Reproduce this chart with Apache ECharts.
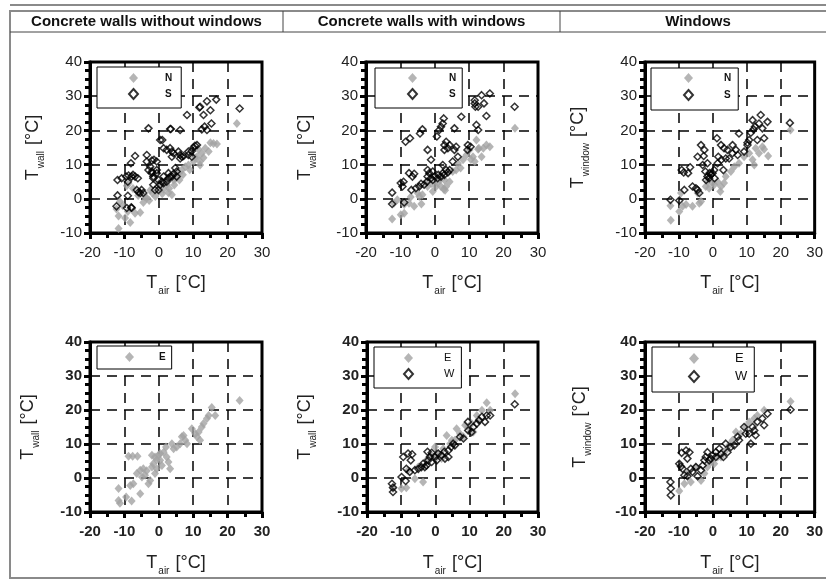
<!DOCTYPE html>
<html>
<head>
<meta charset="utf-8">
<script src="https://cdn.jsdelivr.net/npm/echarts@6/dist/echarts.min.js"></script>
<style>
html, body { margin: 0; padding: 0; background: #fff; }
#chart { width: 826px; height: 581px; }
</style>
</head>
<body>
<div id="chart"></div>
<script>
// column headings and axis ticks
var headings = ['Concrete walls without windows', 'Concrete walls with windows', 'Windows'];
var xTicks = [-20, -10, 0, 10, 20, 30];
var yTicks = [-10, 0, 10, 20, 30, 40];

// [T_air, T_surface] pairs
var wallNoWinN = [[-11.7,-8.7],[-11.7,-5.0],[-9.8,-5.6],[-8.3,-6.9],[-9.0,-3.7],[-6.9,-4.2],[-5.4,-4.0],[-4.5,-1.1],[-3.5,0.2],[-1.9,1.7],[-1.0,0.7],[-0.1,2.1],[1.4,2.8],[2.8,1.8],[3.8,1.2],[2.3,4.1],[4.3,5.5],[5.7,7.5],[6.7,8.4],[7.7,9.4],[8.6,9.9],[10.1,10.9],[11.1,12.3],[12.0,10.9],[12.5,13.3],[13.5,14.8],[14.5,13.8],[15.0,16.4],[15.9,16.2],[16.9,16.0],[12.0,9.9],[22.7,22.0],[-11.3,-0.8],[-9.3,3.8],[-8.8,4.5],[-7.5,3.0],[-6.0,1.0],[-4.0,0.5],[-2.5,2.5],[0.5,3.5],[1.0,1.5],[3.0,3.0],[4.5,4.0],[5.0,6.0],[6.0,5.5],[7.0,7.0],[9.0,8.5],[10.5,12.0],[11.5,14.5],[13.0,12.0],[-12.3,-3.0],[-10.5,-2.0],[-2.8,-0.5],[0.0,4.5]];
var wallNoWinS = [[-9.0,5.0],[-9.0,0.9],[-9.3,-2.7],[-7.9,-2.7],[-9.5,6.5],[-8.8,6.8],[-7.9,6.5],[-6.9,6.5],[-6.1,6.0],[-8.1,10.4],[-6.9,12.5],[-3.5,12.8],[-2.0,11.2],[-1.4,11.4],[-3.0,8.4],[-0.6,8.4],[-2.0,7.5],[-1.6,6.0],[-0.1,5.5],[-1.6,4.1],[-1.1,2.6],[-0.1,2.6],[0.4,4.1],[1.4,4.6],[2.3,5.0],[2.8,6.0],[3.3,6.5],[2.8,7.5],[-6.4,2.6],[-5.4,1.7],[-4.5,1.7],[-5.9,1.9],[-5.0,2.6],[-3.0,20.6],[0.4,17.2],[1.0,17.2],[1.4,14.8],[2.3,14.3],[3.3,14.8],[3.8,13.8],[4.3,13.3],[3.8,12.3],[5.7,13.8],[6.2,12.8],[6.7,12.3],[7.2,12.5],[8.6,13.8],[8.6,12.8],[9.6,12.3],[10.1,15.0],[11.1,15.7],[3.3,20.4],[3.5,20.4],[6.2,20.1],[8.2,24.5],[11.8,26.7],[12.0,26.9],[13.0,24.5],[13.3,21.1],[12.5,20.3],[14.0,20.1],[14.0,28.5],[15.0,25.9],[15.3,22.0],[16.7,29.0],[23.5,26.4],[6.2,11.8],[5.2,8.0],[4.8,9.0],[4.3,7.3],[5.2,6.5],[3.8,6.5],[0.9,5.0],[1.4,6.5],[-0.6,7.5],[-1.6,6.5],[-2.5,9.4],[-3.5,10.9],[-0.6,10.9],[-2.0,8.0],[-12.0,5.5],[-12.0,1.0],[-12.3,-2.2],[-8.0,-2.5],[-10.8,6.0],[-7.5,7.0],[9.6,14.0],[10.5,15.5]];
var wallWinN = [[-12.4,-5.9],[-9.9,-4.7],[-8.9,-4.2],[-8.9,-1.7],[-7.5,-1.3],[-6.0,-2.2],[-3.9,-1.5],[-3.6,1.2],[-5.0,1.7],[-2.1,3.6],[-0.6,2.1],[0.4,3.6],[0.8,4.8],[1.8,3.6],[2.6,2.8],[3.3,3.6],[4.3,5.0],[5.2,8.0],[6.2,8.4],[6.7,10.4],[8.2,11.4],[9.2,12.8],[10.1,14.3],[11.1,12.3],[11.6,10.9],[12.1,17.2],[12.6,14.5],[13.6,12.3],[12.8,14.8],[14.1,14.8],[15.0,15.7],[16.0,15.2],[23.3,20.6],[-11.9,-1.3],[-2.1,5.0],[2.8,5.5],[-4.5,0.7],[-10.9,-0.3],[-1.0,4.5],[1.5,5.5],[3.0,2.5],[7.5,9.0],[10.5,11.5],[-7.0,0.5]];
var wallWinS = [[-12.4,1.8],[-12.4,-1.5],[-8.9,-1.1],[-9.9,4.6],[-9.1,5.0],[-9.4,3.6],[-7.5,7.5],[-6.0,7.3],[-6.5,6.5],[-6.8,2.6],[-5.5,3.1],[-4.5,3.6],[-4.0,4.4],[-3.1,4.1],[-2.3,5.0],[-2.1,6.5],[-1.6,7.5],[-2.1,8.4],[-1.1,6.0],[-0.6,5.5],[-0.1,6.5],[0.8,6.0],[1.8,6.5],[2.3,7.5],[2.8,7.0],[3.3,8.4],[3.8,7.7],[2.3,9.9],[4.3,8.4],[-8.5,16.7],[-7.2,17.7],[-4.3,19.1],[-3.6,20.3],[-2.1,14.3],[-1.1,11.4],[0.6,18.2],[1.3,20.1],[1.8,21.1],[2.3,22.0],[2.6,23.5],[2.8,15.7],[3.3,16.7],[3.8,14.8],[2.8,14.3],[4.3,15.7],[5.2,10.9],[5.7,20.6],[5.7,14.3],[6.2,15.2],[6.7,12.3],[7.7,24.0],[9.5,14.3],[9.6,15.7],[10.4,15.2],[11.6,28.8],[11.8,26.9],[12.6,26.9],[12.1,21.6],[12.6,20.1],[13.6,30.3],[14.3,27.9],[15.0,24.2],[16.0,30.8],[23.2,26.9],[11.6,27.9],[-0.6,8.0],[1.0,7.0]];
var windowN = [[-12.4,-6.3],[-12.5,-2.0],[-9.9,-3.7],[-8.9,-2.2],[-7.9,-1.7],[-6.0,-2.2],[-4.0,-1.3],[-3.5,-0.8],[-4.5,1.7],[-2.1,3.6],[-1.1,3.1],[-0.1,4.6],[1.4,5.0],[2.2,2.1],[2.4,3.6],[3.3,4.6],[3.8,6.5],[5.3,8.0],[6.3,9.4],[7.7,10.4],[9.2,12.3],[10.7,13.3],[11.7,11.4],[12.6,14.8],[12.2,9.9],[13.6,13.3],[14.6,15.2],[15.1,14.5],[16.3,12.5],[22.9,20.1],[-9.4,1.7],[-1.6,5.0],[0.4,4.1]];
var windowS = [[-12.5,-0.3],[-9.9,-0.5],[-9.2,8.4],[-8.6,7.7],[-6.7,9.2],[-7.3,7.5],[-8.4,2.6],[-6.0,3.6],[-5.0,3.1],[-4.5,2.6],[-4.0,1.7],[-3.5,15.7],[-4.5,12.3],[-2.7,12.5],[-2.5,14.3],[-1.6,10.4],[-3.0,9.9],[-2.2,8.0],[-1.6,6.5],[-0.6,7.0],[-1.1,6.0],[-0.1,7.5],[0.4,8.4],[1.4,10.4],[1.2,17.7],[1.6,12.3],[2.4,15.7],[2.5,11.4],[3.3,14.8],[3.8,11.8],[3.1,8.4],[4.3,14.3],[4.8,11.8],[5.8,15.7],[5.8,13.3],[6.8,14.3],[7.3,12.8],[7.7,19.1],[9.2,13.8],[10.2,15.7],[10.7,17.2],[11.2,19.3],[11.7,23.0],[12.0,20.3],[12.4,21.1],[13.1,17.2],[13.6,22.0],[14.1,24.5],[14.6,20.6],[15.1,17.7],[16.1,22.5],[22.7,22.2],[10.2,16.4],[-2.0,5.5],[-1.0,7.5],[0.5,6.0]];
var wallNoWinE = [[-11.7,-3.1],[-11.7,-6.6],[-11.3,-7.4],[-9.5,-5.6],[-7.9,-6.8],[-8.3,-2.2],[-7.4,-1.7],[-5.4,-4.6],[-8.8,6.4],[-7.6,6.4],[-6.2,6.4],[-6.4,1.3],[-5.4,2.3],[-4.5,2.7],[-3.5,2.1],[-3.0,-1.7],[-2.5,-0.7],[-2.0,3.2],[-1.6,4.2],[-2.0,6.7],[-1.1,6.2],[-0.6,5.4],[0.4,5.2],[0.9,3.7],[0.4,7.2],[1.4,7.6],[2.1,9.1],[2.3,6.2],[2.8,4.7],[3.3,2.7],[3.8,10.1],[4.3,8.6],[5.2,9.1],[6.2,10.1],[6.7,12.1],[7.2,12.5],[7.7,11.1],[8.2,10.1],[9.6,14.5],[10.6,13.0],[11.1,12.1],[11.6,13.5],[12.0,11.1],[12.5,15.0],[13.0,16.0],[14.0,17.5],[14.5,18.4],[15.4,20.7],[16.4,18.4],[23.5,22.8],[-1.1,1.3],[-0.6,2.7],[-0.1,6.7],[-4.0,0.8],[-4.9,0.3]];
var wallWinE = [[-12.4,-3.1],[-9.9,-3.1],[-8.5,-2.9],[-6.0,-0.2],[-3.6,-1.2],[-8.0,2.3],[-5.0,3.2],[-2.6,5.2],[-1.1,6.7],[0.4,6.2],[1.8,5.7],[3.3,12.5],[4.3,10.1],[5.7,11.1],[6.2,14.5],[8.2,12.1],[9.6,15.0],[11.1,13.5],[12.1,18.4],[13.6,19.9],[15.0,22.1],[16.0,19.9],[23.3,24.8],[-0.1,9.1],[0.8,7.2],[2.3,8.6],[4.8,11.1],[7.2,13.0],[8.7,15.5],[10.6,16.0],[12.6,17.0]];
var wallWinW = [[-12.7,-1.7],[-12.4,-4.1],[-12.4,-2.8],[-9.9,0.3],[-8.7,-0.9],[-9.4,6.2],[-8.0,7.2],[-6.8,7.0],[-7.2,5.2],[-8.5,2.7],[-7.5,1.8],[-6.0,2.3],[-5.0,2.7],[-4.1,3.2],[-3.6,4.2],[-2.6,3.7],[-2.1,5.2],[-1.6,6.2],[-1.1,4.7],[-2.3,7.7],[-1.1,7.4],[-0.1,6.2],[0.8,7.2],[1.8,6.7],[2.6,7.7],[3.8,8.1],[4.6,9.1],[5.2,10.1],[5.7,9.6],[7.2,12.1],[8.2,11.6],[9.5,16.5],[9.6,14.0],[10.6,13.5],[11.1,15.0],[12.1,16.0],[12.8,17.0],[13.6,18.0],[14.5,16.5],[15.0,18.4],[16.0,18.4],[23.2,21.7],[0.4,5.2],[2.8,5.7],[3.8,6.2],[-3.1,3.2]];
var windowE = [[-9.9,-3.8],[-6.5,-1.2],[-3.5,-0.7],[-2.5,1.3],[-1.6,3.2],[-0.6,4.7],[0.4,4.2],[1.4,6.2],[2.4,6.2],[3.8,8.1],[4.8,9.6],[5.8,11.1],[6.8,13.5],[8.2,13.0],[9.7,15.0],[10.7,16.5],[12.2,17.5],[13.1,18.4],[15.1,19.9],[22.9,22.5],[-7.5,1.3],[-5.0,3.2],[-8.4,-1.7]];
var windowW = [[-12.5,-1.2],[-12.4,-3.1],[-12.4,-5.1],[-9.9,4.2],[-8.9,2.7],[-9.2,7.4],[-7.9,8.1],[-6.9,7.6],[-7.5,5.7],[-8.4,0.8],[-7.5,0.5],[-6.0,1.8],[-6.5,2.7],[-5.0,3.2],[-4.5,0.5],[-3.5,2.3],[-3.0,3.7],[-2.5,5.2],[-2.1,6.2],[-1.6,7.6],[-1.1,5.2],[-0.6,5.7],[-0.1,6.7],[0.9,6.2],[0.9,7.6],[1.9,8.6],[2.4,7.1],[3.1,6.2],[3.8,10.1],[4.3,7.6],[5.3,9.1],[6.3,9.6],[7.3,12.1],[7.7,11.1],[9.2,15.0],[9.7,13.0],[10.7,13.0],[11.2,10.1],[11.7,15.0],[12.2,14.0],[12.6,12.6],[13.1,16.5],[14.6,17.5],[15.1,15.5],[16.1,18.9],[22.9,20.1],[-9.4,3.4]];

var FONT = '"Liberation Sans", Arial, sans-serif';

var grayMark = { symbol: 'diamond', symbolSize: [8, 9], itemStyle: { color: '#a3a3a3' } };
var openMark = { symbol: 'diamond', symbolSize: [7, 7], itemStyle: { color: 'rgba(255,255,255,0)', borderColor: '#000', borderWidth: 1.5 } };

var panels = [
  { grid: [90, 62, 172, 171], bold: false, sub: 'wall', yGap: 46, xGap: 41,
    series: [['N', wallNoWinN, grayMark], ['S', wallNoWinS, openMark]],
    lg: { left: 97, top: 67, pad: [5, 9, 8, 31], gap: 4, tp: 22, fs: 10, fw: 'bold', lh: 12, icon: 9 } },
  { grid: [366, 62, 172, 171], bold: false, sub: 'wall', yGap: 50, xGap: 41,
    series: [['N', wallWinN, grayMark], ['S', wallWinS, openMark]],
    lg: { left: 375, top: 68, pad: [4, 6, 8, 32], gap: 4, tp: 27, fs: 10, fw: 'bold', lh: 12, icon: 9 } },
  { grid: [645, 62, 170, 171], bold: false, sub: 'window', yGap: 56, xGap: 41,
    series: [['N', windowN, grayMark], ['S', windowS, openMark]],
    lg: { left: 651, top: 68, pad: [4, 7, 9, 32], gap: 5, tp: 26, fs: 10, fw: 'bold', lh: 12, icon: 9 } },
  { grid: [90, 342, 172, 170], bold: true, sub: 'wall', yGap: 51, xGap: 42,
    series: [['E', wallNoWinE, grayMark]],
    lg: { left: 97, top: 346, pad: [5, 6, 6, 28], gap: 4, tp: 20, fs: 10, fw: 'bold', lh: 12, icon: 9 } },
  { grid: [367, 342, 171, 170], bold: true, sub: 'wall', yGap: 51, xGap: 42,
    series: [['E', wallWinE, grayMark], ['W', wallWinW, openMark]],
    lg: { left: 374, top: 347, pad: [5, 7, 8, 29], gap: 4, tp: 26, fs: 11, fw: 'normal', lh: 12, icon: 9 } },
  { grid: [645, 342, 170, 170], bold: true, sub: 'window', yGap: 54, xGap: 42,
    series: [['E', windowE, grayMark], ['W', windowW, openMark]],
    lg: { left: 652, top: 347, pad: [4, 7, 8, 36], gap: 3, tp: 31, fs: 13, fw: 'normal', lh: 15, icon: 10 } }
];

function axisName(sub) {
  return {
    text: '{t|T}{s|' + sub + '}{t| [°C]}',
    rich: {
      t: { fontSize: 18, fontFamily: FONT, color: '#222', lineHeight: 20, verticalAlign: 'top' },
      s: { fontSize: 10, fontFamily: FONT, color: '#222', lineHeight: 10, verticalAlign: 'top', padding: [12, 1, 0, 1] }
    }
  };
}

var option = { animation: false, backgroundColor: '#fff', grid: [], xAxis: [], yAxis: [], series: [], legend: [], graphic: [] };

panels.forEach(function (p, i) {
  option.grid.push({ left: p.grid[0], top: p.grid[1], width: p.grid[2], height: p.grid[3],
    show: true, borderColor: '#000', borderWidth: 3, backgroundColor: 'transparent' });
  var lbl = { fontSize: 15, fontFamily: FONT, color: '#222', fontWeight: p.bold ? 'bold' : 'normal' };
  var common = {
    gridIndex: i, type: 'value',
    axisLine: { show: true, onZero: false, lineStyle: { color: '#000', width: 3 } },
    axisTick: { show: true, inside: false, length: 6, lineStyle: { color: '#000', width: 3 } },
    minorTick: { show: true, length: 5, lineStyle: { color: '#000', width: 3 } },
    splitLine: { show: true, lineStyle: { color: '#000', width: 1.5, type: [10, 7] } },
    nameLocation: 'middle'
  };
  var xn = axisName('air');
  option.xAxis.push(Object.assign({}, common, {
    position: 'bottom',
    min: xTicks[0], max: xTicks[xTicks.length - 1], interval: xTicks[1] - xTicks[0],
    minorTick: Object.assign({}, common.minorTick, { splitNumber: 2 }),
    axisLabel: Object.assign({ margin: 12 }, lbl),
    name: xn.text, nameGap: p.xGap, nameTextStyle: { rich: xn.rich }
  }));
  var yn = axisName(p.sub);
  option.yAxis.push(Object.assign({}, common, {
    position: 'left',
    min: yTicks[0], max: yTicks[yTicks.length - 1], interval: yTicks[1] - yTicks[0],
    minorTick: Object.assign({}, common.minorTick, { splitNumber: 4 }),
    axisLabel: Object.assign({ margin: 8 }, lbl),
    name: yn.text, nameGap: p.yGap, nameRotate: 90, nameTextStyle: { rich: yn.rich }
  }));
  var names = [];
  p.series.forEach(function (s) {
    names.push({ name: s[0], icon: 'diamond',
      itemStyle: s[2] === grayMark ? { color: '#a3a3a3' } : { color: '#fff', borderColor: '#000', borderWidth: 2 } });
    option.series.push({
      name: s[0], type: 'scatter', xAxisIndex: i, yAxisIndex: i, data: s[1],
      symbol: s[2].symbol, symbolSize: s[2].symbolSize, itemStyle: s[2].itemStyle,
      emphasis: { disabled: true }
    });
  });
  var lg = p.lg;
  option.legend.push({
    orient: 'vertical', left: lg.left, top: lg.top, padding: lg.pad, itemGap: lg.gap,
    itemWidth: lg.icon, itemHeight: lg.icon + 1, selectedMode: false,
    backgroundColor: '#fff', borderColor: '#000', borderWidth: 1, borderRadius: 0,
    textStyle: { fontSize: lg.fs, fontWeight: lg.fw, fontFamily: FONT, color: '#111', lineHeight: lg.lh, padding: [0, 0, 0, lg.tp] },
    data: names
  });
});

// page frame and heading row
var frame = '#8a8a8a';
option.graphic.push(
  { type: 'line', shape: { x1: 10, y1: 5, x2: 826, y2: 5 }, style: { stroke: frame, lineWidth: 2 } },
  { type: 'rect', shape: { x: 10, y: 11, width: 830, height: 567 }, style: { fill: null, stroke: frame, lineWidth: 2 } },
  { type: 'line', shape: { x1: 10, y1: 32, x2: 826, y2: 32 }, style: { stroke: '#444', lineWidth: 1 } },
  { type: 'line', shape: { x1: 283, y1: 11, x2: 283, y2: 32 }, style: { stroke: '#444', lineWidth: 1 } },
  { type: 'line', shape: { x1: 560, y1: 11, x2: 560, y2: 32 }, style: { stroke: '#444', lineWidth: 1 } }
);
var headX = [146.5, 421.5, 698];
headings.forEach(function (h, i) {
  option.graphic.push({ type: 'text', x: headX[i], y: 22,
    style: { text: h, fill: '#111', font: 'bold 15px ' + FONT, textAlign: 'center', textVerticalAlign: 'middle' } });
});

var chart = echarts.init(document.getElementById('chart'));
chart.setOption(option);
</script>
</body>
</html>
